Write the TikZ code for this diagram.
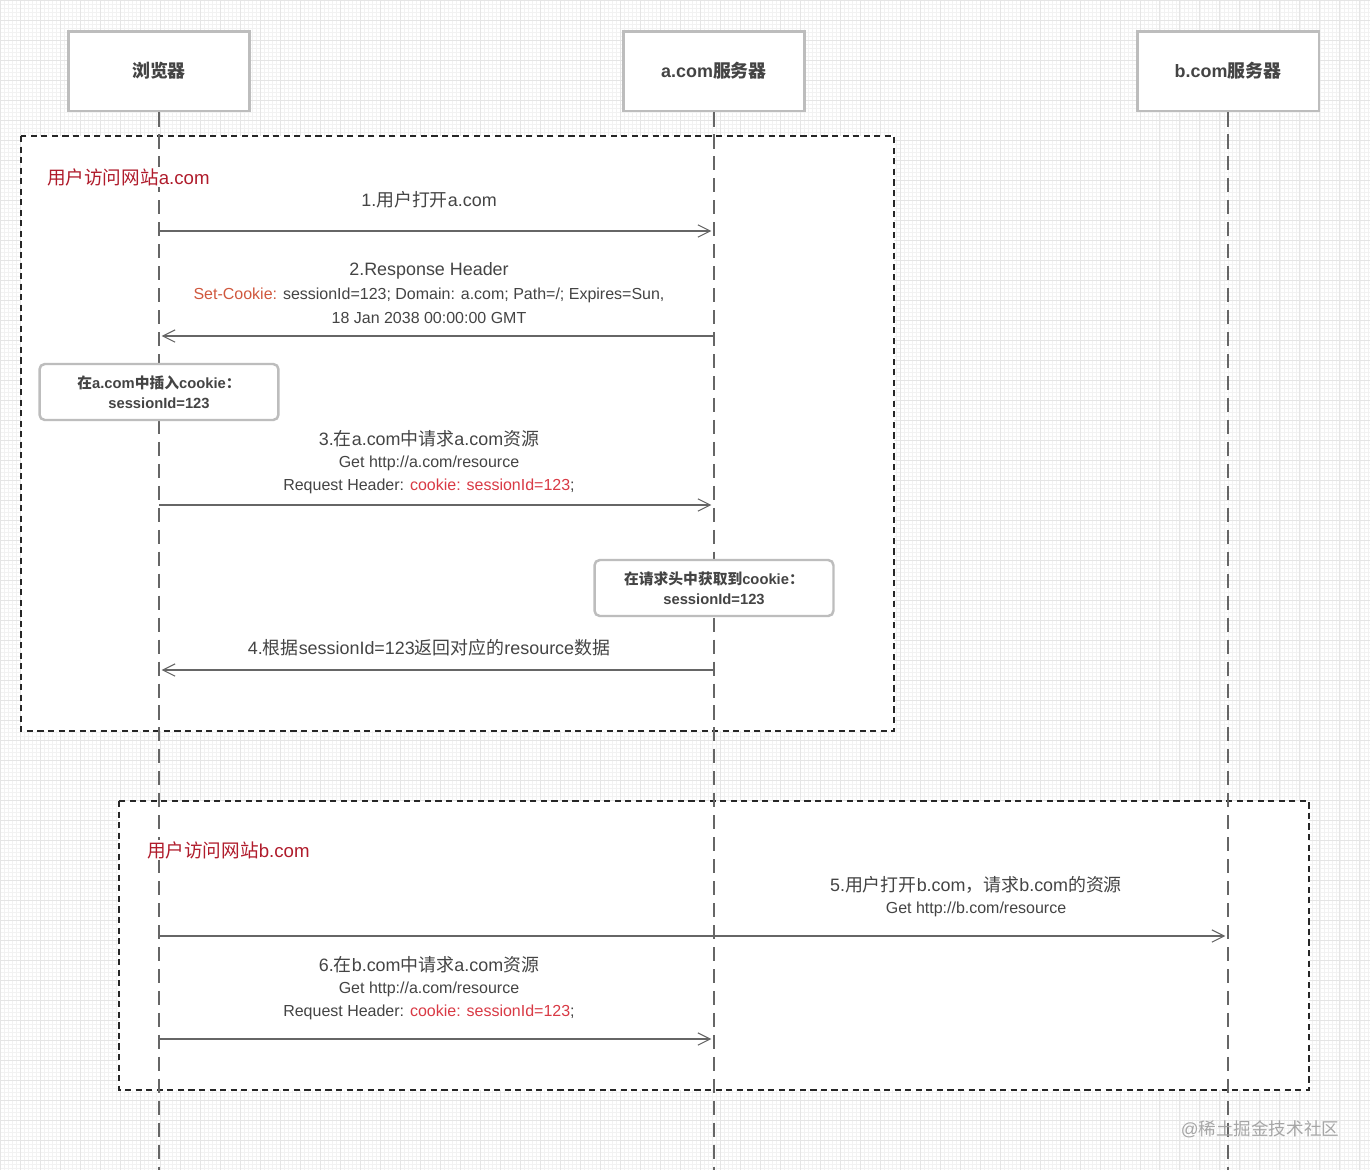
\documentclass[tikz,border=0pt]{standalone}
\usepackage{fontspec}
\setmainfont{Liberation Sans}
\newfontfamily\cjk{Noto Sans CJK SC}
\usetikzlibrary{arrows.meta,positioning}
\newcommand{\zh}[1]{{\cjk #1}}
\definecolor{txtgray}{HTML}{444444}
\definecolor{linegray}{HTML}{666666}
\definecolor{boxgray}{HTML}{BDBDBD}
\definecolor{secred}{HTML}{B01C2C}
\definecolor{setck}{HTML}{D0583E}
\definecolor{ckred}{HTML}{D93A45}

\begin{document}
\begin{tikzpicture}[x=0.02cm,y=-0.02cm,
    actor/.style={draw=boxgray,line width=1.7pt,fill=white,minimum width=3.64cm,minimum height=1.6cm,
      text=txtgray,font=\fontsize{10.2}{12}\selectfont\bfseries},
    note/.style={draw=boxgray,line width=1.4pt,fill=white,rounded corners=3pt,minimum width=4.78cm,
      minimum height=1.12cm,align=center,text=txtgray,font=\fontsize{8.4}{11.5}\selectfont\bfseries},
    lifeline/.style={draw=linegray,line width=1.6pt,dash pattern=on 8pt off 4.5pt},
    group/.style={draw=black!85,line width=0.8pt,dash pattern=on 3.5pt off 2.5pt,fill=white},
    msg/.style={draw=linegray,line width=0.6pt,-{Straight Barb[length=7pt,width=7pt]},shorten >=1.5pt},
    title/.style={text=txtgray,font=\fontsize{10.2}{12}\selectfont},
    sub/.style={text=txtgray,font=\fontsize{9.1}{10}\selectfont},
    seclabel/.style={anchor=west,fill=white,inner sep=1pt,text=secred,font=\fontsize{10.6}{12}\selectfont}]

    % grid paper
    \useasboundingbox (0,0) rectangle (1370,1170);
    \fill[white] (0,0) rectangle (1370,1170);
    \draw[black!5,line width=0.3pt,step=0.08cm] (0,0) grid (1370,1170);
    \draw[black!10,line width=0.3pt,step=0.4cm] (0,0) grid (1370,1170);

    % groups
    \draw[group] (21,136) rectangle (894,731);
    \draw[group] (119,801) rectangle (1309,1090);

    % actors
    \node[actor] (BR) at (159,71) {\zh{浏览器}};
    \node[actor] (AS) at (714,71) {a.com\zh{服务器}};
    \node[actor] (BS) at (1228,71) {b.com\zh{服务器}};

    \coordinate (BRend) at (159,1170);
    \coordinate (ASend) at (714,1170);
    \coordinate (BSend) at (1228,1170);
    \draw[lifeline] (BR.south) -- (BRend);
    \draw[lifeline] (AS.south) -- (ASend);
    \draw[lifeline] (BS.south) -- (BSend);

    % visit a.com
    \node[seclabel] (secA) at (45,177) {\zh{用户访问网站}a.com};

    \node[title] (m1) at (429,200) {1.\zh{用户打开}a.com};
    \coordinate (b1) at (159,231); \coordinate (a1) at (714,231);
    \draw[msg] (b1) -- (a1);

    \node[title] (m2) at (429,271) {2.Response Header};
    \node[sub] (m2a) at (429,295) {\textcolor{setck}{Set-Cookie:} sessionId=123; Domain: a.com; Path=/; Expires=Sun,};
    \node[sub] (m2b) at (429,318) {18 Jan 2038 00:00:00 GMT};
    \coordinate (b2) at (159,336); \coordinate (a2) at (714,336);
    \draw[msg] (a2) -- (b2);

    \node[note] (setck) at (159,392) {\zh{在}a.com\zh{中插入}cookie\zh{：}\\sessionId=123};

    \node[title] (m3) at (429,439) {3.\zh{在}a.com\zh{中请求}a.com\zh{资源}};
    \node[sub] (m3a) at (429,463) {Get http://a.com/resource};
    \node[sub] (m3b) at (429,486) {Request Header: \textcolor{ckred}{cookie: sessionId=123};};
    \coordinate (b3) at (159,505); \coordinate (a3) at (714,505);
    \draw[msg] (b3) -- (a3);

    \node[note] (getck) at (714,588) {\zh{在请求头中获取到}cookie\zh{：}\\sessionId=123};

    \node[title] (m4) at (429,648) {4.\zh{根据}sessionId=123\zh{返回对应的}resource\zh{数据}};
    \coordinate (b4) at (159,670); \coordinate (a4) at (714,670);
    \draw[msg] (a4) -- (b4);

    % visit b.com
    \node[seclabel] (secB) at (145,850) {\zh{用户访问网站}b.com};

    \node[title] (m5) at (976,885) {5.\zh{用户打开}b.com\zh{，请求}b.com\zh{的资源}};
    \node[sub] (m5a) at (976,909) {Get http://b.com/resource};
    \coordinate (b5) at (159,936); \coordinate (c5) at (1228,936);
    \draw[msg] (b5) -- (c5);

    \node[title] (m6) at (429,965) {6.\zh{在}b.com\zh{中请求}a.com\zh{资源}};
    \node[sub] (m6a) at (429,989) {Get http://a.com/resource};
    \node[sub] (m6b) at (429,1012) {Request Header: \textcolor{ckred}{cookie: sessionId=123};};
    \coordinate (b6) at (159,1039); \coordinate (a6) at (714,1039);
    \draw[msg] (b6) -- (a6);

    \node[text=black!35,font=\fontsize{10}{12}\selectfont] (wm) at (1260,1129) {@\zh{稀土掘金技术社区}};
\end{tikzpicture}
\end{document}
